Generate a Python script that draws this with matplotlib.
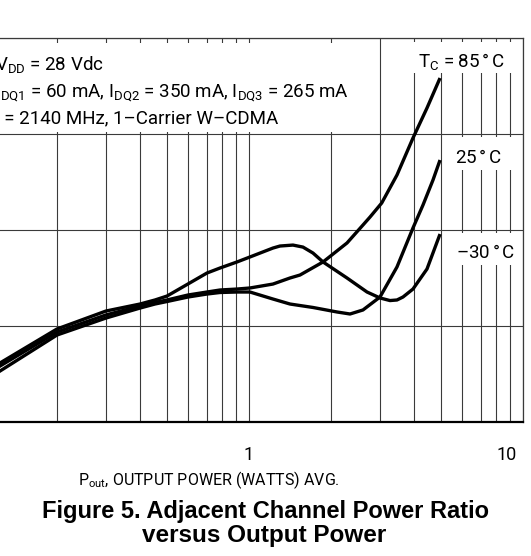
import matplotlib
matplotlib.use('Agg')
import matplotlib.pyplot as plt
import matplotlib.transforms as mtransforms
from matplotlib.patches import Rectangle
from matplotlib.ticker import LogLocator, NullFormatter

# output power (W) and ACPR (dBc) for each case temperature
pout_m30 = [0.1, 0.1234, 0.1992, 0.3006, 0.4002, 0.4538, 0.502, 0.599, 0.7025, 0.7838,
            0.904, 1.008, 1.223, 1.297, 1.447, 1.574, 1.712, 1.863, 2.279, 2.696,
            3.007, 3.27, 3.468, 3.648, 3.967, 4.463, 4.98]
acpr_m30 = [-55.52, -53.85, -50.31, -48.44, -47.71, -47.29, -46.88, -45.62, -44.48, -43.96,
            -43.33, -42.81, -41.88, -41.67, -41.57, -41.78, -42.40, -43.33, -45.00, -46.46,
            -47.08, -47.35, -47.29, -46.98, -46.15, -44.06, -40.42]

pout_25 = [0.1, 0.1234, 0.1992, 0.3006, 0.4002, 0.4538, 0.502, 0.599, 0.7025, 0.7838,
           0.904, 1.008, 1.223, 1.411, 1.712, 2.095, 2.337, 2.606, 3.007, 3.468,
           3.967, 4.315, 4.694, 4.98]
acpr_25 = [-56.35, -54.69, -50.94, -49.17, -48.13, -47.71, -47.45, -46.98, -46.67, -46.51,
           -46.46, -46.46, -47.19, -47.71, -48.07, -48.54, -48.75, -48.33, -46.98, -43.85,
           -39.79, -37.40, -34.79, -32.71]

pout_85 = [0.1, 0.1234, 0.1992, 0.3006, 0.4002, 0.4538, 0.502, 0.599, 0.7025, 0.7838,
           0.904, 1.008, 1.223, 1.411, 1.535, 1.863, 2.279, 2.606, 2.765, 3.05,
           3.468, 3.967, 4.463, 4.98]
acpr_85 = [-55.94, -54.17, -50.63, -48.85, -47.92, -47.55, -47.29, -46.77, -46.46, -46.25,
           -46.15, -46.04, -45.63, -45.00, -44.69, -43.33, -41.35, -39.48, -38.65, -37.19,
           -34.27, -30.42, -27.29, -24.17]

x_ticks = [0.1, 1, 10]
x_ticklabels = ['0.1', '1', '10']
y_ticks = [-60, -50, -40, -30, -20]

plt.rcParams['font.family'] = ['Roboto', 'DejaVu Sans']
plt.rcParams['mathtext.fontset'] = 'custom'
plt.rcParams['mathtext.rm'] = 'Roboto'
plt.rcParams['mathtext.it'] = 'Roboto'

W, H = 531, 556
fig = plt.figure(figsize=(W / 100, H / 100), dpi=100)
# plot frame in pixels: left -25, right 523, top 38, bottom 422
L, R, T, B = -25, 523, 38, 422
ax = fig.add_axes([L / W, 1 - B / H, (R - L) / W, (B - T) / H])

for xs, ys in [(pout_m30, acpr_m30), (pout_25, acpr_25), (pout_85, acpr_85)]:
    ax.plot(xs, ys, color='black', lw=2.4, solid_joinstyle='round',
            solid_capstyle='butt', zorder=4)

ax.set_xscale('log')
ax.set_xlim(0.1, 10)
ax.set_ylim(-60, -20)
ax.set_xticks(x_ticks)
ax.set_xticklabels(x_ticklabels, fontsize=13)
ax.xaxis.set_minor_locator(LogLocator(base=10, subs=range(2, 10)))
ax.xaxis.set_minor_formatter(NullFormatter())
ax.set_yticks(y_ticks)
ax.set_yticklabels([])
ax.tick_params(which='both', length=0, pad=17)
ax.grid(True, which='both', color='#3a3a3a', lw=0.8)
ax.set_axisbelow(True)
for s in ['top', 'right', 'left']:
    ax.spines[s].set_linewidth(0.9)
    ax.spines[s].set_color('#3a3a3a')
ax.spines['bottom'].set_linewidth(1.6)

# the "10" label sits left of its gridline
lbl10 = ax.get_xticklabels()[2]
lbl10.set_transform(lbl10.get_transform() +
                    mtransforms.ScaledTranslation(-16 / 100, 0, fig.dpi_scale_trans))


def fx(px):
    return (px - L) / (R - L)


def fy(py):
    return (B - py) / (B - T)


def blank(x0, y0, x1, y1):
    ax.add_patch(Rectangle((fx(x0), fy(y1)), fx(x1) - fx(x0), fy(y0) - fy(y1),
                           transform=ax.transAxes, facecolor='white',
                           edgecolor='none', zorder=2))


def note(px, py, s):
    ax.text(fx(px), fy(py), s, fontsize=13.5, transform=ax.transAxes,
            va='baseline', zorder=5)


blank(-30, 43, 352, 132)
blank(410, 42, 520, 73)
blank(450, 137, 520, 170)
blank(450, 233, 520, 265)

note(-5, 70, r'V$_{\rm DD}$ = 28 Vdc')
note(-5, 97, r'I$_{\rm DQ1}$ = 60 mA, I$_{\rm DQ2}$ = 350 mA, I$_{\rm DQ3}$ = 265 mA')
note(-7, 123, 'f = 2140 MHz, 1\u2013Carrier W\u2013CDMA')

note(418, 67, r'T$_{\rm C}$ = 85$\,$°$\,$C')
note(455, 163, r'25$\,$°$\,$C')
note(456, 258, '\u201330$\\,$°$\\,$C')

fig.text(209 / W, 1 - 485 / H, r'P$_{\rm out}$, OUTPUT POWER (WATTS) AVG.',
         fontsize=11.5, ha='center', va='baseline')

bold = ['Liberation Sans', 'DejaVu Sans']
fig.text(265 / W, 1 - 518 / H, 'Figure 5. Adjacent Channel Power Ratio',
         fontsize=17, fontweight='bold', family=bold, ha='center', va='baseline')
fig.text(264 / W, 1 - 542 / H, 'versus Output Power',
         fontsize=17.5, fontweight='bold', family=bold, ha='center', va='baseline')

fig.savefig('out.png', dpi=100)
